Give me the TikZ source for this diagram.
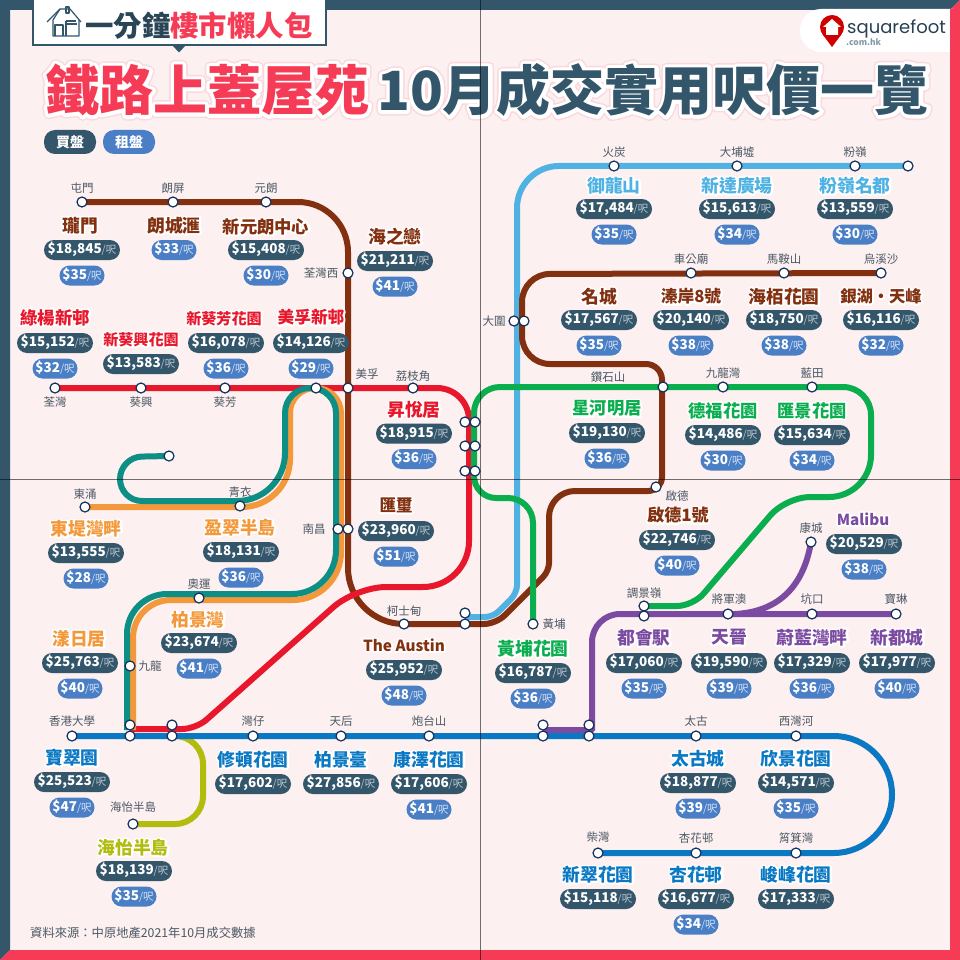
\documentclass[tikz,border=0pt]{standalone}
\usepackage{fontspec}
\setmainfont{Noto Sans CJK TC}
\newfontfamily\blackf{Noto Sans CJK TC Black}
\newfontfamily\logof{Poppins}
\usetikzlibrary{backgrounds}
\definecolor{bgp}{HTML}{FCF0F0}
\definecolor{navy}{HTML}{34566B}
\definecolor{crim}{HTML}{F53B55}
\definecolor{rentb}{HTML}{4A7FC6}
\definecolor{cbrown}{HTML}{82300F}
\definecolor{cred}{HTML}{E9172B}
\definecolor{cgreen}{HTML}{0AAE4F}
\definecolor{csky}{HTML}{50B2E3}
\definecolor{cteal}{HTML}{0E8F85}
\definecolor{corange}{HTML}{F3993B}
\definecolor{cblue}{HTML}{0B78C4}
\definecolor{cpurple}{HTML}{7B4AA1}
\definecolor{clime}{HTML}{B2BC0E}
\definecolor{lbl}{HTML}{4B5864}
\definecolor{ring}{HTML}{14305A}
\newcounter{autoid}
\newcommand\fs[1]{\fontsize{#1}{#1}\selectfont}
\newcommand\halo[2]{{\color{white}\special{pdf:code 1 j 1 J 1 1 1 RG #1 w 2 Tr}\rlap{#2}\special{pdf:code 0 Tr}}#2}
\newcommand\halob[2]{{\special{pdf:code 1 j 1 J 0.98 0.85 0.87 RG 10 w 2 Tr}\rlap{#2}\special{pdf:code 0 Tr}}\halo{#1}{#2}}
\newcommand\nam[4]{\stepcounter{autoid}\node[estname,text=#3] (nm\arabic{autoid}) at (#1,#2) {\halo{3.5}{#4}};}
\newcommand\buyp[3]{\stepcounter{autoid}\node[buypill] (by\arabic{autoid}) at (#1,#2) {\strut\$#3\unitb};}
\newcommand\rentp[3]{\stepcounter{autoid}\node[rentpill] (rn\arabic{autoid}) at (#1,#2) {\strut\$#3\unitr};}
\newcommand\unitb{{\fontsize{10.5}{10.5}\mdseries\color[HTML]{B9C7D0}/呎}}
\newcommand\unitr{{\fontsize{10.5}{10.5}\mdseries\color[HTML]{D5E2F4}/呎}}
\newcommand\lb[3]{\stepcounter{autoid}\node[stlabel] (lb\arabic{autoid}) at (#1,#2) {#3};}
\newcommand\st[3]{\node[station] (#1) at (#2,#3) {};}
\newcommand\est[8]{\nam{#1}{#2}{#3}{#4}\buyp{#5}{#6}{#7}\rentp{#5}{#6+25.5}{#8}}
\tikzset{
 estname/.style={inner sep=0pt,font=\fontsize{17.8}{17.8}\selectfont\bfseries},
 buypill/.style={fill=navy,rounded corners=10pt,minimum width=76pt,minimum height=20pt,inner sep=0pt,text=white,font=\fontsize{13.5}{13.5}\selectfont\bfseries},
 rentpill/.style={fill=rentb,rounded corners=10pt,minimum width=45pt,minimum height=20pt,inner sep=0pt,text=white,font=\fontsize{13.5}{13.5}\selectfont\bfseries},
 legend/.style={rounded corners=11pt,minimum width=52pt,minimum height=24pt,inner sep=0pt,text=white,font=\fontsize{14}{14}\selectfont\bfseries},
 stlabel/.style={inner sep=0pt,text=lbl,font=\fontsize{11.5}{11.5}\selectfont},
 station/.style={circle,fill=white,draw=ring,line width=1.2pt,minimum size=10pt,inner sep=0pt},
 rail/.style={line width=6pt,line cap=butt},
 R/.style={rounded corners=#1pt},
}
\begin{document}
\begin{tikzpicture}[x=1pt,y=-1pt]
\useasboundingbox (0,0) rectangle (960,960);
\begin{scope}[on background layer]
\fill[bgp] (0,0) rectangle (960,960);
\fill[navy] (0,0) -- (960,0) -- (950,10) -- (10,10) -- (10,950) -- (0,960) -- cycle;
\fill[crim] (960,0) -- (960,960) -- (0,960) -- (10,950) -- (950,950) -- (950,10) -- cycle;
\end{scope}

% stations
\st{tm}{82}{202}\st{lp}{173}{202}\st{yl}{266}{202}\st{tww}{348}{273}
\st{tw}{55}{388}\st{kh}{141}{388}\st{kf}{225}{388}\st{lk}{316}{388}\st{mf}{348}{388}\st{lck}{413}{388}
\st{pe}{465}{422}\st{qe}{475}{422}\st{pf}{465}{446}\st{qf}{475}{446}\st{pg}{465}{471}\st{qg}{475}{471}
\st{nca}{338}{529}\st{ncb}{348}{529}
\st{tc}{85}{507}\st{ty}{240}{506}\st{dis}{169}{456}\st{oly}{199}{598}\st{kln}{130}{666}
\st{hku}{72}{736}\st{ca}{130}{725}\st{cb}{130}{736}\st{ada}{172}{725}\st{adb}{172}{736}
\st{wc}{253}{736}\st{th}{341}{736}\st{fh}{429}{736}\st{soh}{133}{824}
\st{aus}{404}{624}\st{ema}{465}{613}\st{emb}{465}{624}\st{hom}{533}{624}
\st{taia}{514}{321}\st{taib}{524}{321}
\st{dh}{663}{387}\st{kb}{723}{387}\st{lt}{812}{387}\st{kt}{656}{487}
\st{tkla}{644}{606}\st{tklb}{644}{616}\st{tko}{728}{614}\st{hh}{812}{614}\st{pl}{896}{614}\st{lh}{811}{542}
\st{npa}{543}{725}\st{npb}{543}{736}\st{qba}{589}{725}\st{qbb}{589}{736}
\st{tk}{696}{736}\st{syw}{796}{736}
\st{cw}{598}{853}\st{hfc}{696}{853}\st{skw}{796}{853}
\st{ft}{614}{166}\st{tp}{737}{166}\st{fl}{855}{166}\st{ls}{908}{166}
\st{cko}{691}{273}\st{mos}{784}{273}\st{wks}{881}{273}

% lines
\begin{scope}[on background layer]
\draw[rail,csky] (ls.center) [R=42] -- (517,166) [R=8] -- (517,593) [R=8] -- (493,617) -- (465,617);
\draw[rail,cbrown] (tm.center) [R=50] -- (348,202) [R=56] -- (348,624) [R=12] -- (496,624) [R=8] -- (549,571) [R=26] -- (549,491) [R=14] -- (662,491) [R=16] -- (662,364) [R=28] -- (522,364) [R=28] -- (522,274) -- (wks.center);
\draw[rail,cred] (tw.center) [R=32] -- (469,388) [R=46] -- (469,587) [R=30] -- (356,587) [R=14] -- (196,729) -- (130,729);
\draw[rail,corange] (tc.center) [R=48] -- (290,507) [R=25] -- (290,388) [R=25] -- (341,388) [R=48] -- (341,600) [R=38] -- (133,600) -- (133,730);
\draw[rail,cteal] (dis.center) [R=22] -- (120,457) [R=22] -- (120,501) [R=48] -- (285,501) [R=25] -- (285,388) [R=25] -- (336,388) [R=44] -- (336,594) [R=40] -- (127,594) -- (127,730);
\draw[rail,cgreen] (tkla.center) [R=16] -- (693,606) [R=24] -- (786,497) [R=42] -- (871,497) [R=28] -- (871,387) [R=26] -- (474,387) [R=22] -- (474,498) [R=25] -- (533,498) -- (hom.center);
\draw[rail,cpurple] (543,730) [R=1] -- (592,730) [R=28] -- (592,614) -- (pl.center);
\draw[rail,cpurple] (lh.center) .. controls (803,590) and (775,612) .. (735,614);
\draw[rail,clime] (adb.center) [R=28] -- (203,736) [R=28] -- (203,824) -- (soh.center);
\draw[rail,cblue] (hku.center) [R=58.4] -- (892,736) [R=58.4] -- (892,853) -- (cw.center);
\end{scope}

% station labels
\lb{82}{188}{屯門}\lb{173}{188}{朗屏}\lb{266}{188}{元朗}\lb{321}{273}{荃灣西}\lb{367}{374}{美孚}\lb{413}{376}{荔枝角}
\lb{55}{402}{荃灣}\lb{141}{402}{葵興}\lb{225}{402}{葵芳}\lb{314}{529}{南昌}\lb{85}{494}{東涌}\lb{240}{492}{青衣}
\lb{199}{584}{奧運}\lb{150}{666}{九龍}\lb{72}{721}{香港大學}\lb{253}{721}{灣仔}\lb{341}{721}{天后}\lb{429}{721}{炮台山}
\lb{133}{807}{海怡半島}\lb{404}{611}{柯士甸}\lb{554}{624}{黃埔}\lb{494}{321}{大圍}\lb{608}{377}{鑽石山}
\lb{723}{373}{九龍灣}\lb{812}{373}{藍田}\lb{677}{496}{啟德}\lb{644}{593}{調景嶺}\lb{729}{599}{將軍澳}\lb{812}{599}{坑口}
\lb{896}{599}{寶琳}\lb{811}{528}{康城}\lb{696}{721}{太古}\lb{796}{721}{西灣河}\lb{598}{837}{柴灣}\lb{696}{838}{杏花邨}\lb{796}{838}{筲箕灣}
\lb{614}{152}{火炭}\lb{737}{152}{大埔墟}\lb{855}{152}{粉嶺}\lb{691}{259}{車公廟}\lb{784}{259}{馬鞍山}\lb{881}{259}{烏溪沙}

% estates
\est{80}{225.5}{cbrown}{瓏門}{82}{250}{18,845}{35}
\nam{174}{225.5}{cbrown}{朗城滙}\rentp{174}{250}{33}
\est{266}{226.5}{cbrown}{\fs{17.3}新元朗中心}{266}{250}{15,408}{30}
\est{395}{236.5}{cbrown}{海之戀}{395}{261}{21,211}{41}
\est{55}{317.5}{cred}{\fs{17.4}綠楊新邨}{55}{343}{15,152}{32}
\nam{141}{339.5}{cred}{\fs{15.1}新葵興花園}\buyp{141}{364}{13,583}
\est{224}{318.5}{cred}{\fs{15.1}新葵芳花園}{226}{343}{16,078}{36}
\est{311}{317.5}{cred}{\fs{16.7}美孚新邨}{311}{343}{14,126}{29}
\est{414}{409.5}{cred}{昇悅居}{414}{433.5}{18,915}{36}
\est{396}{505.5}{cbrown}{\fs{16.5}匯璽}{396}{531}{23,960}{51}
\est{86}{528.5}{corange}{東堤灣畔}{86}{553}{13,555}{28}
\est{240}{527.5}{corange}{盈翠半島}{241}{552}{18,131}{36}
\est{198}{619.5}{corange}{柏景灣}{199}{643}{23,674}{41}
\est{79}{638.5}{corange}{漾日居}{80}{663}{25,763}{40}
\est{404}{645}{cbrown}{\fs{15.3}The Austin}{404}{670}{25,952}{48}
\est{72}{757.5}{cblue}{寶翠園}{72}{782}{25,523}{47}
\nam{253}{759.5}{cblue}{修頓花園}\buyp{253}{784}{17,602}
\nam{341}{759.5}{cblue}{柏景臺}\buyp{341}{784}{27,856}
\est{429}{759.5}{cblue}{康澤花園}{429}{784}{17,606}{41}
\est{133}{847.5}{clime}{海怡半島}{134}{871}{18,139}{35}
\est{698}{758.5}{cblue}{太古城}{698}{783}{18,877}{39}
\est{796}{758.5}{cblue}{欣景花園}{796}{783}{14,571}{35}
\nam{598}{874.5}{cblue}{新翠花園}\buyp{598}{899}{15,118}
\est{696}{874.5}{cblue}{杏花邨}{696}{899}{16,677}{34}
\nam{796}{874.5}{cblue}{峻峰花園}\buyp{796}{899}{17,333}
\est{644}{637.5}{cpurple}{都會駅}{644}{663}{17,060}{35}
\est{729}{637.5}{cpurple}{天晉}{729}{663}{19,590}{39}
\est{812}{637.5}{cpurple}{蔚藍灣畔}{812}{663}{17,329}{36}
\est{897}{637.5}{cpurple}{新都城}{897}{663}{17,977}{40}
\est{863}{519}{cpurple}{\fs{15.2}Malibu}{864}{544}{20,529}{38}
\est{533}{648.5}{cgreen}{黃埔花園}{533}{673}{16,787}{36}
\est{678}{515.5}{cbrown}{\fs{17}啟德1號}{677}{540}{22,746}{40}
\est{607}{408.5}{cgreen}{\fs{17.3}星河明居}{607}{433}{19,130}{36}
\est{723}{410.5}{cgreen}{\fs{17.3}德福花園}{723}{435}{14,486}{30}
\est{812}{410.5}{cgreen}{\fs{17.3}匯景花園}{812}{435}{15,634}{34}
\est{599}{296.5}{cbrown}{名城}{599}{320}{17,567}{35}
\est{691}{296.5}{cbrown}{\fs{16.7}溱岸8號}{691}{320}{20,140}{38}
\est{784}{296.5}{cbrown}{海栢花園}{784}{320}{18,750}{38}
\est{881}{296.5}{cbrown}{\fs{16.3}銀湖・天峰}{881}{320}{16,116}{32}
\est{614}{185.5}{csky}{御龍山}{614}{209}{17,484}{35}
\est{737}{185.5}{csky}{新達廣場}{737}{209}{15,613}{34}
\est{855}{185.5}{csky}{粉嶺名都}{855}{209}{13,559}{30}

% legend
\node[legend,fill=navy] (buyleg) at (70,142) {買盤};
\node[legend,fill=rentb] (rentleg) at (129,142) {租盤};

% heading box
\fill[navy] (172,45) -- (186,45) -- (179,52.5) -- cycle;
\fill[white] (33,0) rectangle (326,45);
\draw[navy,line width=1.2pt] (33,0) -- (33,45) -- (326,45) -- (326,0);
\node[inner sep=0pt,anchor=west,font=\blackf\fontsize{28.4}{28.4}\selectfont] (sub) at (85,26) {\textcolor{navy!80!black}{一分鐘}\textcolor{crim}{樓市懶人包}};
\begin{scope}[navy,line width=1.2pt,line join=round]
\draw (47,22) -- (60,9) -- (70,9) -- (81,22);
\draw (60,9) -- (53,20) -- (53,36) -- (79,36) -- (79,20);
\draw (66,7) rectangle (69,13);
\draw (55,36) -- (55,25) -- (63,25) -- (63,36);
\draw (66,24) -- (77,24) (66,21) -- (76,21);
\draw (66,21) -- (66,36);
\end{scope}

% main title
\node[inner sep=0pt,anchor=west,font=\blackf\fontsize{54}{54}\selectfont] (title) at (45,90) {\textcolor{crim}{\halob{7}{鐵路上蓋屋苑}}\hspace{8pt}\textcolor{navy}{\halob{7}{10月成交實用呎價一覽}}};

% logo
\fill[white,rounded corners=21pt] (800,9) rectangle (975,52);
\fill[crim] (950,9) rectangle (960,52);
\fill[red!82!black] (832,27) circle[radius=12];
\fill[red!82!black] (832,47) -- (822.3,34) -- (841.7,34) -- cycle;
\fill[white] (832,19) -- (841,27) -- (838,27) -- (838,35) -- (826,35) -- (826,27) -- (823,27) -- cycle;
\node[inner sep=0pt,anchor=west,text=navy!75!black,font=\logof\fontsize{18}{18}\selectfont] (logo) at (847,28.5) {squarefoot};
\node[inner sep=0pt,anchor=west,text=navy!60,font=\fontsize{8.5}{8.5}\selectfont\bfseries] (logob) at (846,42.5) {.com.hk};

% source
\node[inner sep=0pt,anchor=west,text=lbl,font=\fontsize{12.3}{12.3}\selectfont] (src) at (30,933) {資料來源：中原地產2021年10月成交數據};

% fold lines
\coordinate (vt) at (480,0); \coordinate (vb) at (480,960); \coordinate (hl) at (0,479.5); \coordinate (hr) at (960,479.5);
\draw[black,opacity=0.55,line width=0.9pt] (vt) -- (vb) (hl) -- (hr);
\end{tikzpicture}
\end{document}
